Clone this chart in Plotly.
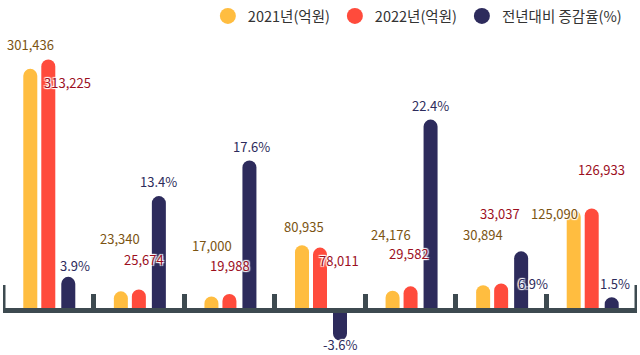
import plotly.graph_objects as go

# ---- data ----
groups = [0, 1, 2, 3, 4, 5, 6]
val_2021 = [301436, 23340, 17000, 80935, 24176, 30894, 125090]
val_2022 = [313225, 25674, 19988, 78011, 29582, 33037, 126933]
rate = [3.9, 13.4, 17.6, -3.6, 22.4, 6.9, 1.5]
legend_names = ["2021년(억원)", "2022년(억원)", "전년대비 증감율(%)"]

# ---- styling ----
C_Y, C_R, C_N = "#FFBD40", "#FF4B3C", "#2D2B5C"
T_Y, T_R, T_N = "#7B5412", "#9C0F1E", "#2D2B5C"
AXIS = "#3D4A50"
FONT = "Noto Sans CJK KR"
HALO = "1px 1px 1px #fff, -1px -1px 1px #fff, 1px -1px 1px #fff, -1px 1px 1px #fff"

W, H = 640, 355
ML, MR = 3, 3
px_per_x = (W - ML - MR) / 7.0
bw = 14 / px_per_x
centers = [-18 / px_per_x, 0.0, 20 / px_per_x]

zero_px = 310  # from top
k1 = 0.0008    # px per 억원
k2 = 8.5       # px per %
y1_range = [-(H - zero_px) / k1, zero_px / k1]
y2_range = [-(H - zero_px) / k2, zero_px / k2]

fig = go.Figure()
series = [(val_2021, C_Y, "y"), (val_2022, C_R, "y"), (rate, C_N, "y2")]
for (vals, col, ax), c, name in zip(series, centers, legend_names):
    fig.add_trace(go.Bar(
        x=groups, y=vals, yaxis=ax, width=bw, offset=c - bw / 2,
        marker=dict(color=col, cornerradius=7, line=dict(width=0)),
        showlegend=False, hoverinfo="skip",
    ))
    fig.add_trace(go.Scatter(
        x=[None], y=[None], mode="markers", name=name,
        marker=dict(color=col, size=16, symbol="circle"),
    ))

# label offsets relative to the end of each bar (px): (dx, dy downward)
off_y = [(0, -24), (-1, -53), (1, -51), (2, -19), (-2, -56), (0, -51), (-19, 4)]
off_r = [(19, 23), (5, -30), (1, -29), (19, 13), (-2, -33), (-1, -70), (10, -39)]
off_n = [(7, -11), (0, -15), (2, -14), (0, 4), (0, -14), (12, 32), (3, -14)]

ann = []
def add_labels(vals, c, yref, offs, color, fmt):
    for g, v, (dx, dy) in zip(groups, vals, offs):
        ann.append(dict(
            x=g + c, y=v, xref="x", yref=yref, text=fmt(v),
            showarrow=False, xanchor="center", yanchor="middle",
            xshift=dx, yshift=-dy,
            font=dict(family=FONT, size=13, color=color, shadow=HALO),
        ))

add_labels(val_2021, centers[0], "y", off_y, T_Y, lambda v: f"{v:,}")
add_labels(val_2022, centers[1], "y", off_r, T_R, lambda v: f"{v:,}")
add_labels(rate, centers[2], "y2", off_n, T_N, lambda v: f"{v:.1f}%")

# taller end stubs of the baseline
shapes = []
for xe in (-0.5, 6.5):
    shapes.append(dict(
        type="line", xref="x", yref="y", x0=xe, x1=xe,
        ysizemode="pixel", yanchor=0, y0=0, y1=25,
        line=dict(color=AXIS, width=5),
    ))

fig.update_layout(
    width=W, height=H,
    margin=dict(l=ML, r=MR, t=0, b=0),
    paper_bgcolor="white", plot_bgcolor="white",
    barmode="overlay",
    annotations=ann,
    shapes=shapes,
    font=dict(family=FONT, size=13, color="#333333"),
    legend=dict(
        orientation="h", x=0.984, xanchor="right", y=1, yanchor="top",
        font=dict(family=FONT, size=14.5, color="#333333"),
        bgcolor="rgba(0,0,0,0)", itemclick=False,
    ),
    xaxis=dict(
        range=[-0.5, 6.5], anchor="free", position=(H - zero_px) / H,
        showgrid=False, zeroline=False, showticklabels=False,
        showline=True, linewidth=5, linecolor=AXIS,
        tickmode="array", tickvals=[0.5, 1.5, 2.5, 3.5, 4.5, 5.5],
        ticks="inside", ticklen=14, tickwidth=5, tickcolor=AXIS,
        fixedrange=True,
    ),
    yaxis=dict(range=y1_range, visible=False, fixedrange=True),
    yaxis2=dict(range=y2_range, visible=False, overlaying="y", fixedrange=True),
)

fig.write_html(
    "out.html",
    config={"displayModeBar": False},
    post_script="document.body.style.margin='0';document.body.style.overflow='hidden';",
)
